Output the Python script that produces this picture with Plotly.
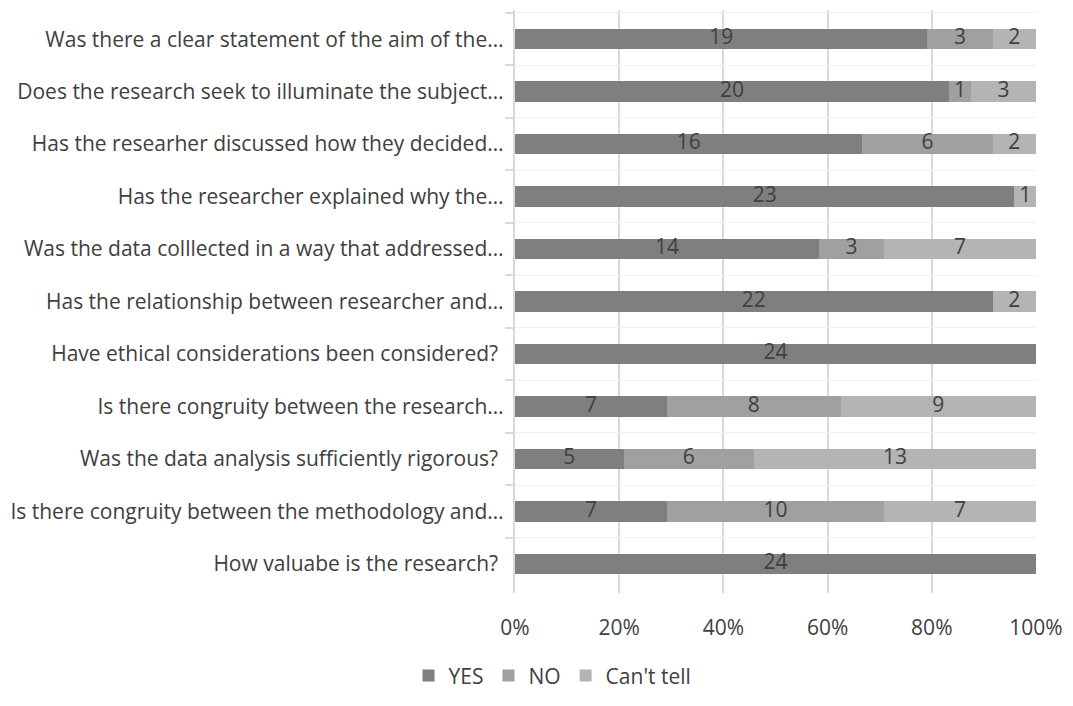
import plotly.graph_objects as go

questions = [
    "Was there a clear statement of the aim of the…",
    "Does the research seek to illuminate the subject…",
    "Has the researher discussed how they decided…",
    "Has the researcher explained why the…",
    "Was the data colllected in a way that addressed…",
    "Has the relationship between researcher and…",
    "Have ethical considerations been considered?\u00a0",
    "Is there congruity between the research…",
    "Was the data analysis sufficiently rigorous?\u00a0",
    "Is there congruity between the methodology and…",
    "How valuabe is the research?\u00a0",
]
yes_counts = [19, 20, 16, 23, 14, 22, 24, 7, 5, 7, 24]
no_counts = [3, 1, 6, 0, 3, 0, 0, 8, 6, 10, 0]
cant_tell_counts = [2, 3, 2, 1, 7, 2, 0, 9, 13, 7, 0]
x_ticks = [0, 20, 40, 60, 80, 100]

series = [
    ("YES", yes_counts, "#7f7f7f"),
    ("NO", no_counts, "#a0a0a0"),
    ("Can't tell", cant_tell_counts, "#b4b4b4"),
]

text_color = "#404040"
font_family = "Open Sans, Noto Sans, sans-serif"
fs = 21

totals = [sum(r) for r in zip(yes_counts, no_counts, cant_tell_counts)]

fig = go.Figure()
start = [0.0] * len(questions)
label_x, label_y, label_txt = [], [], []
for name, vals, color in series:
    fig.add_trace(go.Bar(
        name=name,
        y=questions,
        x=vals,
        orientation="h",
        marker=dict(color=color, line=dict(width=0)),
        textposition="none",
        hoverinfo="x+y+name",
    ))
    # segment centres (in percent of each row's total) for the value labels
    for i, v in enumerate(vals):
        share = 100.0 * v / totals[i]
        if v:
            label_x.append(start[i] + share / 2)
            label_y.append(questions[i])
            label_txt.append(str(v))
        start[i] += share

fig.add_trace(go.Scatter(
    x=label_x,
    y=label_y,
    text=label_txt,
    mode="text",
    textposition="middle center",
    textfont=dict(color=text_color, size=fs, family=font_family),
    showlegend=False,
    hoverinfo="skip",
    cliponaxis=False,
))

fig.update_layout(
    barmode="stack",
    barnorm="percent",
    bargap=0.613,
    width=1073,
    height=706,
    margin=dict(l=512, r=30, t=10, b=97),
    paper_bgcolor="white",
    plot_bgcolor="white",
    font=dict(family=font_family, size=fs, color=text_color),
    xaxis=dict(
        range=[0, 100],
        tickvals=x_ticks,
        ticktext=[f"{t}%" for t in x_ticks],
        showgrid=True,
        gridcolor="#d9d9d9",
        gridwidth=1.5,
        zeroline=False,
        showline=False,
        ticks="",
        ticklabelstandoff=20,
        tickfont=dict(size=fs, color=text_color),
        fixedrange=True,
    ),
    yaxis=dict(
        autorange="reversed",
        showline=True,
        linecolor="#d9d9d9",
        linewidth=1.5,
        ticks="outside",
        tickson="boundaries",
        ticklen=8,
        tickcolor="#d9d9d9",
        tickwidth=1.5,
        showgrid=True,
        gridcolor="#efefef",
        gridwidth=1,
        tickfont=dict(size=fs, color=text_color),
        ticksuffix=" ",
    ),
    legend=dict(
        orientation="h",
        x=0.072,
        xanchor="center",
        y=-0.142,
        yanchor="middle",
        font=dict(size=fs, color=text_color),
        traceorder="normal",
        itemwidth=30,
    ),
)

fig.write_html("out.html")
